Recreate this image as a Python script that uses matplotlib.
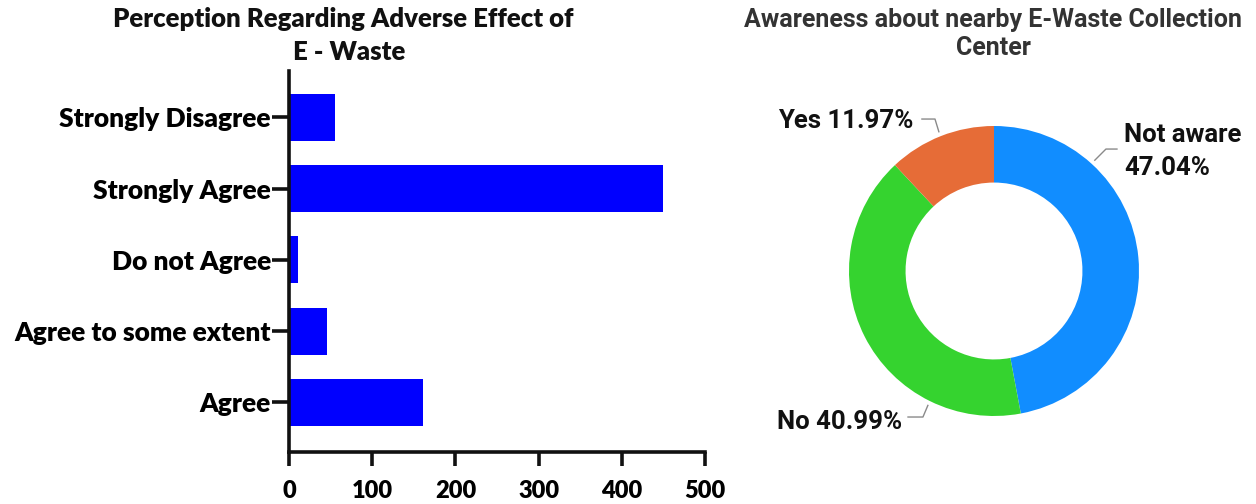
import matplotlib
matplotlib.use("Agg")
import matplotlib.pyplot as plt
import numpy as np

# Left chart: perception regarding adverse effect of e-waste
categories = ["Agree", "Agree to some extent", "Do not Agree",
              "Strongly Agree", "Strongly Disagree"]
counts = [161, 46, 11, 449, 55]
x_ticks = [0, 100, 200, 300, 400, 500]

# Right chart: awareness about nearby collection center
aware_labels = ["Not aware", "No", "Yes"]
aware_pcts = [47.04, 40.99, 11.97]
aware_colors = ["#118DFF", "#35D32F", "#E66C37"]

W, H = 1256, 504
fig = plt.figure(figsize=(W / 100, H / 100), dpi=100)
fig.patch.set_facecolor("white")

left_font = "Lato"
right_font = "Roboto"

# ---- bar chart ----
ax = fig.add_axes([289 / W, 1 - 452 / H, (705 - 289) / W, (452 - 71) / H])
y = np.arange(len(categories))
ax.barh(y, counts, height=0.66, color="#0000FF", edgecolor="none")
ax.set_xlim(0, 500)
ax.set_ylim(-0.695, 4.65)
ax.set_xticks(x_ticks)
ax.set_yticks(y)
ax.set_yticklabels(categories)
for s in ["top", "right"]:
    ax.spines[s].set_visible(False)
for s in ["left", "bottom"]:
    ax.spines[s].set_linewidth(2.6)
    ax.spines[s].set_color("#111111")
ax.tick_params(axis="y", length=12, width=2.6, color="#111111", pad=1)
ax.tick_params(axis="x", length=10, width=2.6, color="#111111", pad=10)
for lab in ax.get_yticklabels():
    lab.set_fontfamily(left_font)
    lab.set_fontweight("heavy")
    lab.set_fontsize(19)
for lab in ax.get_xticklabels():
    lab.set_fontfamily(left_font)
    lab.set_fontweight("heavy")
    lab.set_fontsize(17)
fig.text(343 / W, 1 - 19 / H, "Perception Regarding Adverse Effect of",
         ha="center", va="center", fontfamily=left_font, fontweight="heavy",
         fontsize=18.5, color="#111111")
fig.text(349 / W, 1 - 52 / H, "E - Waste",
         ha="center", va="center", fontfamily=left_font, fontweight="heavy",
         fontsize=18.5, color="#111111")

# ---- donut chart ----
r_px = 145
cx, cy = 994, 271
half = 1.6
ax2 = fig.add_axes([(cx - half * r_px) / W, 1 - (cy + half * r_px) / H,
                    2 * half * r_px / W, 2 * half * r_px / H])
wedges, _ = ax2.pie(aware_pcts, colors=aware_colors, startangle=90,
                    counterclock=False, radius=1.0,
                    wedgeprops=dict(width=0.39, edgecolor="none"))
ax2.set_xlim(-half, half)
ax2.set_ylim(-half, half)
ax2.set_aspect("equal")
ax2.axis("off")

# leader line layout: (anchor angle deg, elbow, end, text pos, ha, text)
leaders = {
    "Not aware": (47.7, (0.772, 0.841), (0.848, 0.841), (0.897, 0.824),
                  "left", "Not aware\n47.04%"),
    "Yes": (111.6, (-0.407, 1.048), (-0.497, 1.048), (-0.559, 1.034),
            "right", "Yes 11.97%"),
    "No": (243.8, (-0.49, -1.007), (-0.593, -1.007), (-0.634, -1.041),
           "right", "No 40.99%"),
}
for name, pct in zip(aware_labels, aware_pcts):
    ang, elbow, end, tpos, ha, txt = leaders[name]
    a = np.deg2rad(ang)
    start = (1.033 * np.cos(a), 1.033 * np.sin(a))
    ax2.plot([start[0], elbow[0], end[0]], [start[1], elbow[1], end[1]],
             color="#8a8a8a", lw=1.0)
    ax2.text(tpos[0], tpos[1], txt, ha=ha, va="center", fontfamily=right_font,
             fontweight="bold", fontsize=18.5, color="#111111",
             linespacing=1.45)

fig.text(993 / W, 1 - 20 / H, "Awareness about nearby E-Waste Collection",
         ha="center", va="center", fontfamily=right_font, fontweight="bold",
         fontsize=18, color="#333333")
fig.text(993 / W, 1 - 48 / H, "Center",
         ha="center", va="center", fontfamily=right_font, fontweight="bold",
         fontsize=18, color="#333333")

fig.savefig("out.png", dpi=100, facecolor="white")
